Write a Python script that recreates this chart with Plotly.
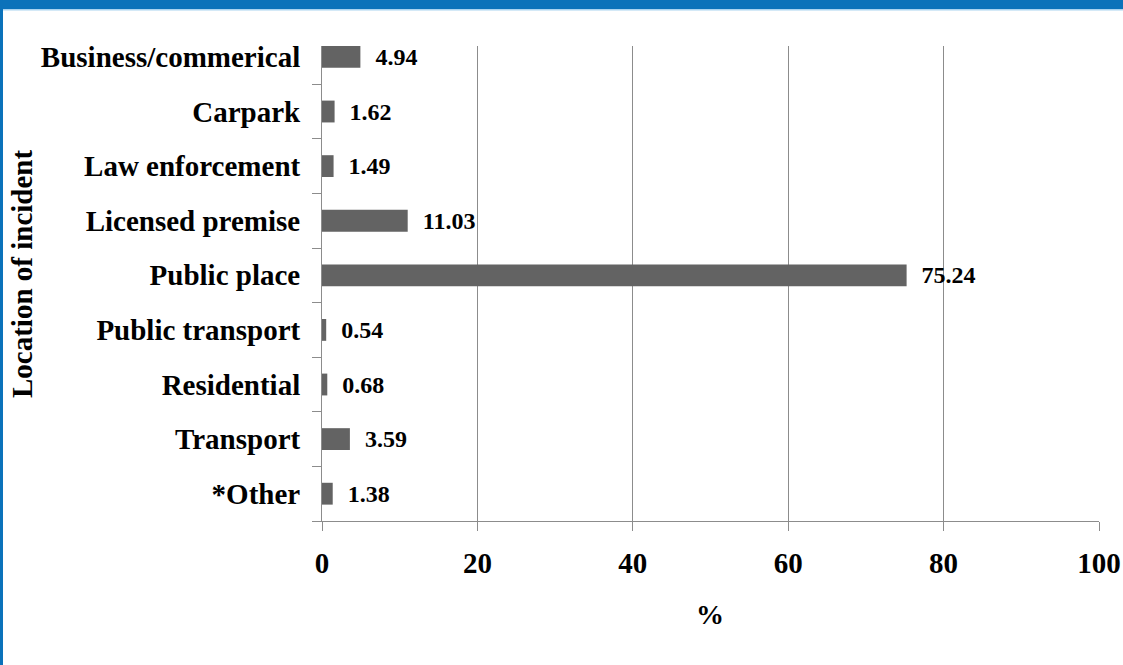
import plotly.graph_objects as go

# location categories, bottom to top as plotted
locations = ['*Other', 'Transport', 'Residential', 'Public transport', 'Public place',
             'Licensed premise', 'Law enforcement', 'Carpark', 'Business/commerical']
pct = [1.38, 3.59, 0.68, 0.54, 75.24, 11.03, 1.49, 1.62, 4.94]
pct_labels = ['1.38', '3.59', '0.68', '0.54', '75.24', '11.03', '1.49', '1.62', '4.94']
x_ticks = [0, 20, 40, 60, 80, 100]

font_face = 'Liberation Serif'
W, H = 1123, 665
L, R, T, B = 322, 24, 46, 144

fig = go.Figure()
fig.add_trace(go.Bar(
    y=locations, x=pct, orientation='h',
    marker=dict(color='#636363', line=dict(width=0)),
    width=0.4,
    text=['  ' + t for t in pct_labels],
    textposition='outside',
    constraintext='none',
    textfont=dict(family=font_face, size=24, color='black', weight='bold'),
    cliponaxis=False,
))

fig.update_layout(
    width=W, height=H,
    margin=dict(l=L, r=R, t=T, b=B, autoexpand=False),
    paper_bgcolor='white', plot_bgcolor='white',
    showlegend=False,
    bargap=0.6,
    font=dict(family=font_face, color='black'),
)
fig.update_xaxes(
    range=[0, 100], tickvals=x_ticks, ticktext=[str(v) for v in x_ticks],
    showgrid=True, gridcolor='#8c8c8c', gridwidth=1,
    showline=True, linecolor='#8c8c8c', linewidth=1,
    ticks='outside', ticklen=9, tickcolor='#8c8c8c',
    tickfont=dict(family=font_face, size=29, color='black', weight='bold'),
    ticklabelstandoff=7,
    zeroline=False, automargin=False,
)
fig.update_yaxes(
    type='category', range=[-0.5, 8.2],
    showline=True, linecolor='#8c8c8c', linewidth=1,
    ticks='outside', ticklen=9, tickcolor='#8c8c8c', tickson='boundaries',
    tickfont=dict(family=font_face, size=29, color='black', weight='bold'),
    ticklabelstandoff=15,
    showgrid=False, automargin=False,
)

# axis titles
fig.add_annotation(text='Location of incident', xref='paper', yref='paper',
                   x=(22 - L) / (W - L - R), y=(H - B - 274) / (H - T - B),
                   textangle=-90, showarrow=False, xanchor='center', yanchor='middle',
                   font=dict(family=font_face, size=29, color='black', weight='bold'))
fig.add_annotation(text='%', xref='paper', yref='paper',
                   x=(710 - L) / (W - L - R), y=(H - B - 614) / (H - T - B),
                   showarrow=False, xanchor='center', yanchor='middle',
                   font=dict(family=font_face, size=28, color='black', weight='bold'))

# slide frame: blue header band and left edge
pw, ph = W - L - R, H - T - B
fig.add_shape(type='rect', xref='paper', yref='paper', layer='above',
              x0=-L / pw, x1=(W - L) / pw, y0=(H - B - 9) / ph, y1=(H - B) / ph,
              fillcolor='#0B72BA', line=dict(width=0))
fig.add_shape(type='rect', xref='paper', yref='paper', layer='above',
              x0=-L / pw, x1=(W - L) / pw, y0=(H - B - 10.5) / ph, y1=(H - B - 9) / ph,
              fillcolor='#A9D3F0', line=dict(width=0))
fig.add_shape(type='rect', xref='paper', yref='paper', layer='above',
              x0=-L / pw, x1=(3 - L) / pw, y0=-B / ph, y1=(H - B) / ph,
              fillcolor='#0B72BA', line=dict(width=0))

fig.write_html('out.html', config={'displayModeBar': False},
               post_script="document.body.style.margin='0';document.body.style.overflow='hidden';")
